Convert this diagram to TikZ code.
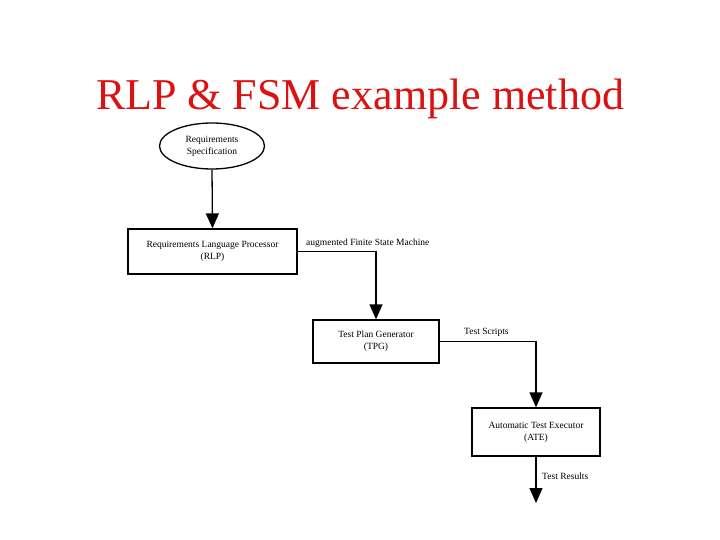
\documentclass[tikz,border=0pt]{standalone}
\usepackage{fontspec}
\setmainfont{Liberation Serif}
\usetikzlibrary{shapes.geometric,arrows.meta}
\definecolor{titlered}{RGB}{218,18,18}
\tikzset{
  boxnode/.style={draw, line width=1.3pt, rectangle, align=center, inner sep=0pt,
    font=\fontsize{9.5}{12}\selectfont},
  conn/.style={line width=1.3pt},
  arr/.style={line width=1.3pt, -{Triangle[width=13pt,length=15pt]}},
  lbl/.style={font=\fontsize{9.5}{12}\selectfont, anchor=base west, inner sep=0pt}
}
\begin{document}
\begin{tikzpicture}[x=1pt,y=-1pt]
\useasboundingbox (0,0) rectangle (720,540);
\node[anchor=base, text=titlered, font=\fontsize{44}{44}\selectfont, inner sep=0pt] (title) at (360,110) {RLP \& FSM example method};
\node[draw, ellipse, line width=1.3pt, minimum width=105pt, minimum height=46pt, inner sep=0pt, align=center,
  font=\fontsize{9.5}{12}\selectfont] (spec) at (212,146) {Requirements\\Specification};
\node[boxnode, minimum width=169pt, minimum height=45pt] (rlp) at (212.5,251.5) {Requirements Language Processor\\(RLP)};
\node[boxnode, minimum width=126pt, minimum height=43pt] (tpg) at (376,341.5) {Test Plan Generator\\(TPG)};
\node[boxnode, minimum width=128pt, minimum height=48pt] (ate) at (536,432) {Automatic Test Executor\\(ATE)};
\coordinate (endpt) at (536,503);
\draw[arr] (spec.south) -- (rlp.north);
\draw[arr] (rlp.east) -| (tpg.north);
\draw[arr] (tpg.east) -| (ate.north);
\draw[arr] (ate.south) -- (endpt);
\node[lbl] (l1) at (306,245) {augmented Finite State Machine};
\node[lbl] (l2) at (464,334) {Test Scripts};
\node[lbl] (l3) at (542,479) {Test Results};
\end{tikzpicture}
\end{document}
